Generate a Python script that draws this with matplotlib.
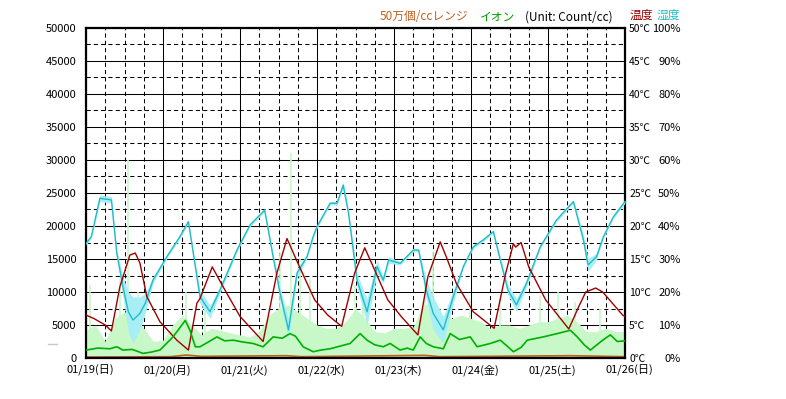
import numpy as np
import matplotlib
matplotlib.use("Agg")
import matplotlib.pyplot as plt
from matplotlib.lines import Line2D
from matplotlib.ticker import MultipleLocator
from matplotlib.transforms import ScaledTranslation

plt.rcParams['font.family'] = ['Noto Sans CJK JP', 'DejaVu Sans']

# time in days from 01/19 00:00
day_labels = ['01/19(日)', '01/20(月)', '01/21(火)', '01/22(水)', '01/23(木)',
              '01/24(金)', '01/25(土)', '01/26(日)']

# temperature (deg C)
temp_t = [0.00, 0.10, 0.25, 0.33, 0.44, 0.57, 0.64, 0.70, 0.79, 0.96, 1.18, 1.33,
          1.44, 1.48, 1.64, 1.78, 2.00, 2.30, 2.48, 2.61, 2.75, 2.97, 3.14, 3.32,
          3.49, 3.62, 3.75, 3.92, 4.10, 4.31, 4.44, 4.60, 4.68, 4.81, 5.03, 5.30,
          5.36, 5.45, 5.55, 5.58, 5.65, 5.75, 5.97, 6.27, 6.40, 6.49, 6.62, 6.71,
          6.97, 7.00]
temp = [6.5, 6.0, 5.0, 4.1, 10.8, 15.6, 15.9, 14.4, 9.3, 5.5, 2.7, 1.2,
        8.3, 9.0, 13.8, 10.8, 6.3, 2.5, 12.9, 18.1, 14.4, 8.8, 6.5, 4.8,
        12.9, 16.7, 13.3, 8.8, 6.2, 3.5, 12.3, 17.6, 15.3, 11.3, 7.0, 4.5,
        7.8, 12.8, 17.3, 16.8, 17.5, 13.8, 8.8, 4.4, 7.8, 10.0, 10.6, 10.0,
        6.5, 6.3]

# humidity (%) and spread of the min/max band
hum_t = [0.00, 0.07, 0.18, 0.33, 0.40, 0.48, 0.55, 0.61, 0.70, 0.77, 0.87, 1.05,
         1.22, 1.33, 1.42, 1.48, 1.61, 1.74, 1.96, 2.13, 2.32, 2.43, 2.52, 2.63,
         2.74, 2.87, 2.95, 3.00, 3.17, 3.26, 3.34, 3.41, 3.52, 3.65, 3.78, 3.86,
         3.93, 4.08, 4.25, 4.32, 4.42, 4.51, 4.64, 4.77, 4.90, 5.03, 5.16, 5.29,
         5.38, 5.48, 5.59, 5.72, 5.90, 6.11, 6.33, 6.46, 6.52, 6.63, 6.72, 6.85,
         7.00]
hum = [34.7, 36.8, 48.4, 47.9, 31.7, 21.6, 14.0, 11.5, 13.5, 16.6, 23.6, 30.7,
       36.8, 41.3, 27.7, 18.6, 14.0, 20.6, 32.7, 40.3, 44.8, 30.7, 19.6, 8.5,
       25.7, 30.7, 36.8, 39.8, 46.9, 46.9, 52.4, 43.8, 23.6, 14.0, 27.7, 23.6,
       29.7, 28.7, 32.7, 32.7, 20.6, 13.5, 8.5, 18.6, 27.7, 33.7, 35.8, 38.3,
       29.7, 20.6, 16.1, 22.6, 33.7, 41.8, 47.4, 35.8, 28.2, 30.7, 36.8, 42.8,
       47.4]
hum_spread = [0.5, 0.5, 1.0, 1.0, 1.0, 3.0, 6.0, 7.0, 5.0, 3.0, 1.0, 0.5,
              0.5, 0.5, 1.0, 2.0, 2.0, 1.0, 0.5, 0.5, 0.5, 1.0, 2.0, 3.0,
              1.5, 0.5, 0.5, 0.5, 0.5, 0.5, 1.0, 1.0, 2.0, 4.0, 2.0, 1.0,
              1.0, 0.5, 0.5, 0.5, 3.0, 5.0, 4.0, 2.0, 0.5, 0.5, 0.5, 0.5,
              1.0, 1.5, 2.0, 1.0, 0.5, 0.5, 0.5, 1.5, 2.0, 1.0, 0.5, 0.5,
              0.5]

# ion average (count/cc)
ion_t = [0.00, 0.15, 0.31, 0.40, 0.48, 0.60, 0.74, 0.85, 0.96, 1.13, 1.29, 1.35,
         1.42, 1.48, 1.60, 1.70, 1.80, 1.91, 2.05, 2.17, 2.30, 2.43, 2.55, 2.65,
         2.72, 2.82, 2.95, 3.05, 3.17, 3.30, 3.43, 3.56, 3.65, 3.75, 3.86, 3.95,
         4.08, 4.17, 4.25, 4.34, 4.42, 4.51, 4.64, 4.73, 4.85, 4.99, 5.08, 5.25,
         5.38, 5.47, 5.55, 5.65, 5.73, 5.94, 6.12, 6.29, 6.38, 6.47, 6.55, 6.71,
         6.81, 6.90, 7.00]
ion = [1200, 1500, 1400, 1700, 1200, 1300, 700, 900, 1200, 3200, 5700, 4200,
       1700, 1700, 2500, 3200, 2600, 2700, 2400, 2200, 1700, 3200, 3000, 3700,
       3300, 1700, 950, 1200, 1400, 1800, 2200, 3700, 2700, 2000, 1700, 2200,
       1200, 1500, 1200, 3200, 2200, 1700, 1400, 3700, 2800, 3200, 1700, 2200,
       2700, 1800, 950, 1600, 2700, 3200, 3700, 4200, 3200, 2000, 1200, 2700,
       3500, 2500, 2600]

# ion maximum envelope (3 h steps) and isolated peaks
ionmax_t = np.arange(0, 7.001, 0.125)
ionmax = [4200, 5000, 2500, 6000, 7000, 6500, 4500, 2500, 2700, 5000, 6500, 5000,
          3500, 4500, 4200, 3800, 3500, 3200, 4000, 6500, 7500, 8000, 7000, 6000,
          5000, 4500, 4500, 5500, 7500, 6000, 4000, 3800, 4500, 4500, 4700, 8000,
          8500, 6500, 6000, 6500, 6000, 5500, 4500, 5000, 5000, 4500, 5000, 5500,
          5500, 6000, 6500, 5500, 4000, 4000, 4500, 4000, 4000]
peak_t = [0.05, 0.44, 0.545, 0.675, 1.30, 1.55, 2.52, 2.66, 2.78, 2.91, 3.49, 3.60,
          4.40, 4.51, 4.99, 5.38, 5.90, 6.13, 6.35, 6.68]
peak_v = [11000, 12000, 30000, 10000, 10000, 8000, 16000, 31000, 15000, 12000, 11000, 10000,
          13000, 16000, 9000, 9000, 9500, 10000, 8500, 7500]

# 500k range trace
rng_t = [0.0, 1.1, 1.3, 1.5, 2.6, 2.8, 3.6, 4.4, 4.6, 6.3, 7.0]
rng = [150, 200, 450, 250, 350, 200, 300, 400, 200, 350, 200]

fig = plt.figure(figsize=(7.86, 3.99), dpi=100)
ax = fig.add_axes([86 / 786, 41 / 399, 539 / 786, 330 / 399])

ax.fill_between(ionmax_t, 0, ionmax, color='#c8f8c8', lw=0, zorder=1)
ax.vlines(peak_t, 0, peak_v, color='#c8f8c8', lw=1.2, zorder=1)
ax.plot(rng_t, rng, color='#c0601a', lw=1.2, zorder=2)

ax.set_xlim(0, 7)
ax.set_ylim(0, 50000)
ax.xaxis.set_major_locator(MultipleLocator(1))
ax.xaxis.set_minor_locator(MultipleLocator(0.25))
ax.yaxis.set_major_locator(MultipleLocator(5000))
ax.yaxis.set_minor_locator(MultipleLocator(2500))
ax.set_axisbelow(True)
ax.grid(which='major', color='black', lw=0.75, ls='-')
ax.grid(which='minor', color='black', lw=0.75, ls=(0, (4, 3)))
ax.set_xticks(range(8), labels=day_labels)
ax.tick_params(which='both', length=0)
ax.tick_params(axis='y', pad=7, labelsize=8)
ax.tick_params(axis='x', pad=5, labelsize=8)
shift = ScaledTranslation(4 / 100, 0, fig.dpi_scale_trans)
for lab in ax.get_xticklabels():
    lab.set_transform(lab.get_transform() + shift)
for s in ax.spines.values():
    s.set_linewidth(1.6)

# humidity axis
ax_h = ax.twinx()
ax_h.set_ylim(0, 100)
h_lo = np.array(hum) - np.array(hum_spread)
h_hi = np.array(hum) + np.array(hum_spread)
ax_h.fill_between(hum_t, h_lo, h_hi, color='#a8eef6', lw=0)
ax_h.plot(hum_t, hum, color='#20bcc8', lw=1.0)
ax_h.set_yticks(range(0, 101, 10), labels=[f'{v}%' for v in range(0, 101, 10)])
ax_h.tick_params(length=0, pad=40, labelsize=8)
for lab in ax_h.get_yticklabels():
    lab.set_horizontalalignment('right')

# temperature axis
ax_t = ax.twinx()
ax_t.set_ylim(0, 50)
ax_t.plot(temp_t, temp, color='#a00000', lw=1.0)
ax_t.set_yticks(range(0, 51, 5), labels=[f'{v}℃' for v in range(0, 51, 5)])
ax_t.tick_params(length=0, pad=3, labelsize=7.5)

# ion average on top
ax_i = ax.twinx()
ax_i.set_ylim(0, 50000)
ax_i.plot(ion_t, ion, color='#00b000', lw=1.2)
ax_i.set_yticks([])

for a in (ax_h, ax_t, ax_i):
    for s in a.spines.values():
        s.set_visible(False)

fig.text(380 / 786, 1 - 17 / 399, '50万個/ccレンジ', color='#c06020', fontsize=8.5, va='center')
fig.text(480 / 786, 1 - 17 / 399, 'イオン', color='#00a000', fontsize=8.5, va='center')
fig.text(525 / 786, 1 - 17 / 399, '(Unit: Count/cc)', color='black', fontsize=8.5, va='center')
fig.text(630 / 786, 1 - 15 / 399, '温度', color='#a00000', fontsize=8.5, va='center')
fig.text(657 / 786, 1 - 15 / 399, '湿度', color='#20bcc8', fontsize=8.5, va='center')
fig.add_artist(Line2D([48 / 786, 57 / 786], [1 - 344 / 399] * 2, color='#c8c8c8', lw=1))

fig.savefig('out.png', dpi=100)
